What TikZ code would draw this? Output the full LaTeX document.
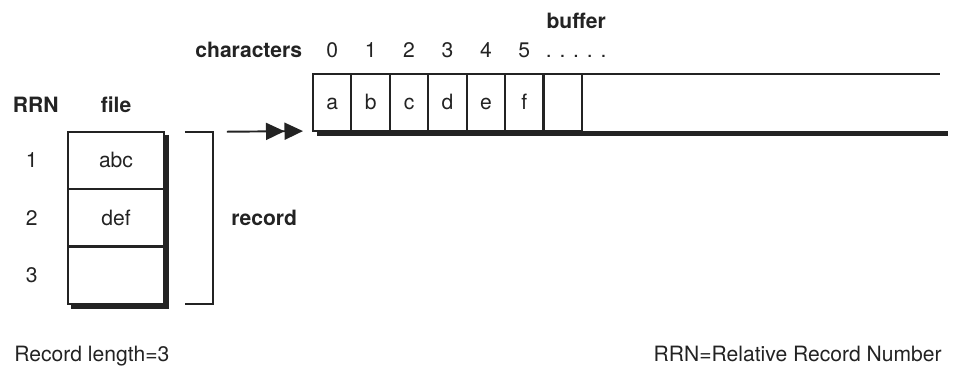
\documentclass[tikz,border=0pt]{standalone}
\usepackage{fontspec}
\setmainfont{TeX Gyre Heros}
\usepackage{tikz}
\usetikzlibrary{arrows.meta, positioning, calc}
\definecolor{inkgray}{RGB}{35,35,35}
\tikzset{
  basetext/.style={font=\fontsize{12}{14}\selectfont,text=inkgray,inner sep=0pt,text height=8.5pt,text depth=0pt},
  boldtext/.style={basetext,font=\fontsize{12}{14}\selectfont\bfseries},
  filecell/.style={basetext,draw=inkgray,line width=1.2pt,minimum width=1.92cm,minimum height=1.1467cm,outer sep=0pt},
  bufcell/.style={basetext,draw=inkgray,line width=1.2pt,minimum width=0.7686cm,minimum height=1.14cm,outer sep=0pt},
  restcell/.style={minimum width=7.16cm,minimum height=1.14cm,inner sep=0pt,outer sep=0pt},
  shadowline/.style={draw=inkgray,line width=0.09cm},
  bandline/.style={draw=inkgray,line width=0.1cm},
  thinline/.style={draw=inkgray,line width=1.2pt},
  brackline/.style={draw=inkgray,line width=0.9pt},
  dblarr/.style={-{Triangle[length=0.37cm,width=0.34cm,sep=0pt]Triangle[length=0.37cm,width=0.34cm]},line width=1.1pt,draw=inkgray}
}
\begin{document}
\begin{tikzpicture}[x=0.02cm,y=-0.02cm,node distance=0pt]
  \useasboundingbox (0,0) rectangle (954,369);
  \node[filecell] (r1) at (116,160.5) {abc};
  \node[filecell,below=0pt of r1] (r2) {def};
  \node[filecell,below=0pt of r2] (r3) {};
  \draw[shadowline] ([shift={(2.3,3)}]r1.north east) |- ([shift={(3,2.5)}]r3.south west);

  \node[basetext,left=0.6cm of r1] (n1) {1};
  \node[basetext,left=0.6cm of r2] (n2) {2};
  \node[basetext,left=0.6cm of r3] (n3) {3};
  \node[boldtext,above=0.38cm of r1] (fl) {file};
  \node[boldtext,xshift=0.08cm] (rrn) at (n1 |- fl) {RRN};

  \draw[brackline] ([xshift=0.42cm]r1.north east) -- ([xshift=0.98cm]r1.north east)
      -- ([xshift=0.98cm]r3.south east) -- ([xshift=0.42cm]r3.south east);
  \node[boldtext,anchor=west] (rec) at ([xshift=1.34cm]r2.east) {record};

  \node[bufcell] (c0) at (332.2,102.5) {a};
  \node[bufcell,right=0pt of c0] (c1) {b};
  \node[bufcell,right=0pt of c1] (c2) {c};
  \node[bufcell,right=0pt of c2] (c3) {d};
  \node[bufcell,right=0pt of c3] (c4) {e};
  \node[bufcell,right=0pt of c4] (c5) {f};
  \node[bufcell,right=0pt of c5] (c6) {};
  \node[restcell,right=0pt of c6] (c7) {};
  \draw[thinline] (c7.north west) -- (c7.north east);
  \draw[bandline] ([shift={(4,2.5)}]c0.south west) -- ([shift={(8,2.5)}]c7.south east);

  \node[basetext,above=0.32cm of c0] (i0) {0};
  \node[basetext,above=0.32cm of c1] (i1) {1};
  \node[basetext,above=0.32cm of c2] (i2) {2};
  \node[basetext,above=0.32cm of c3] (i3) {3};
  \node[basetext,above=0.32cm of c4] (i4) {4};
  \node[basetext,above=0.32cm of c5] (i5) {5};
  \node[boldtext,left=0.47cm of i0] (chars) {characters};
  \node[basetext,right=0.3cm of i5] (dots) {. . . . .};
  \node[boldtext,above=0.28cm of dots] (buf) {buffer};

  \draw[dblarr,shorten <=0.28cm,shorten >=0.2cm] ([xshift=0.98cm]r1.north east) -- (c0.south west);

  \node[basetext,anchor=base west] (reclen) at (14,361) {Record length=3};
  \node[basetext,anchor=base east] (rrndef) at (942,361) {RRN=Relative Record Number};
\end{tikzpicture}
\end{document}
